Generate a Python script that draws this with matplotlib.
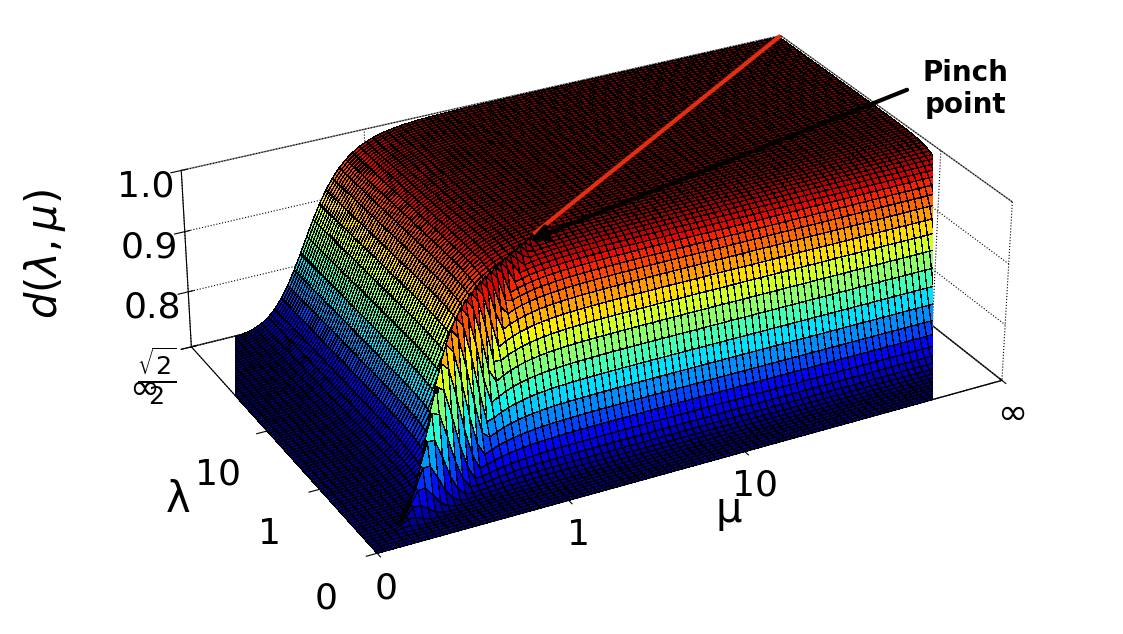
import numpy as np
import matplotlib.pyplot as plt
from matplotlib import cm

# compactified axis: t = x^p / (c + x^p), so 0 -> 0, inf -> 1
P, C = 0.51, 2.45
tick_vals = [0, 1, 10]
tick_labels = ["0", "1", "10", "\u221e"]
z_ticks = [np.sqrt(2) / 2, 0.8, 0.9, 1.0]
z_labels = [r"$\frac{\sqrt{2}}{2}$", "0.8", "0.9", "1.0"]
pinch_t = 0.36


def to_t(x):
    x = np.asarray(x, dtype=float)
    return x ** P / (C + x ** P)


def from_t(t):
    return (C * t / (1 - t)) ** (1 / P)


def d_surface(lam, mu):
    g = lambda x, s: 1 / (1 + (s / np.maximum(x, 1e-9)) ** 2.5)
    base = g(lam, 0.35) * g(mu, 0.35)
    ridge = np.exp(-4.0 * np.log((lam + 1e-9) / (mu + 1e-9)) ** 2)
    f = np.maximum(base, ridge * g(lam + mu, 0.25))
    return np.sqrt(2) / 2 + (1 - np.sqrt(2) / 2) * f


t = np.linspace(0.0, 0.995, 90)
TM, TL = np.meshgrid(t, t)
MU, LAM = from_t(TM), from_t(TL)
Z = d_surface(LAM, MU)

fig = plt.figure(figsize=(11.23, 6.34), dpi=100)
ax = fig.add_axes([0.0, 0.0, 1.04, 1.1], projection="3d")
ax.set_box_aspect((1.55, 1.0, 0.45), zoom=1.18)
ax.plot_surface(TM, TL, Z, cmap=cm.jet, edgecolor="k", linewidth=0.2,
                rstride=1, cstride=1, antialiased=False, shade=False)
ax.plot([pinch_t, 0.995], [pinch_t, 0.995], [1.0, 1.0], color="#e03010", lw=3, zorder=10)

ax.view_init(elev=28, azim=-118)
ax.set_xlim(0, 1)
ax.set_ylim(0, 1)
ax.set_zlim(np.sqrt(2) / 2, 1.0)
tt = list(to_t(tick_vals)) + [1.0]
ax.set_xticks(tt)
ax.set_xticklabels(tick_labels, fontsize=26)
ax.set_yticks(tt)
ax.set_yticklabels(tick_labels, fontsize=26)
ax.set_zticks(z_ticks)
ax.set_zticklabels(z_labels, fontsize=26)
ax.tick_params(axis="y", pad=12)
ax.set_xlabel("\u03bc", fontsize=30, labelpad=10)
ax.set_ylabel("\u03bb", fontsize=30, labelpad=20)
ax.zaxis.set_rotate_label(False)
ax.set_zlabel(r"$d(\lambda,\mu)$", fontsize=30, labelpad=25, rotation=90)
for a in (ax.xaxis, ax.yaxis, ax.zaxis):
    a.pane.fill = False
    a.pane.set_edgecolor("k")
    a._axinfo["grid"].update(color="k", linestyle=":", linewidth=0.8)

label = fig.text(0.86, 0.86, "Pinch\npoint", fontsize=20, fontweight="bold", ha="center", va="center")
label.set_zorder(20)
arrow = plt.Annotation("", xy=(0.47, 0.62), xytext=(0.81, 0.86), xycoords="figure fraction",
                       arrowprops=dict(arrowstyle="-|>", color="k", lw=3, mutation_scale=25))
arrow.set_zorder(20)
fig.add_artist(arrow)
fig.savefig("out.png", dpi=100)
